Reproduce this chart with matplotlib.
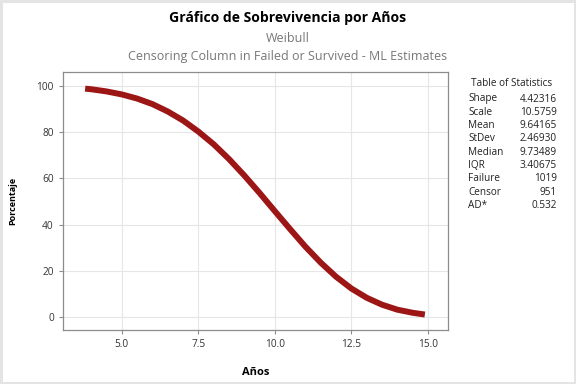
import numpy as np
from matplotlib import pyplot as plt

# Data
anios = [3.8, 4.0, 4.5, 5.0, 5.5, 6.0, 6.5, 7.0, 7.5, 8.0, 8.5, 9.0, 9.5,
         10.0, 10.5, 11.0, 11.5, 12.0, 12.5, 13.0, 13.5, 14.0, 14.5, 14.9]
porcentaje = [98.9, 98.65, 97.7, 96.4, 94.6, 92.2, 89.0, 85.1, 80.3, 74.8,
              68.4, 61.3, 53.7, 45.8, 38.0, 30.4, 23.5, 17.4, 12.3, 8.3,
              5.3, 3.15, 1.8, 1.05]
x_ticks = [5.0, 7.5, 10.0, 12.5, 15.0]
y_ticks = [0, 20, 40, 60, 80, 100]
stat_names = ["Shape", "Scale", "Mean", "StDev", "Median", "IQR",
              "Failure", "Censor", "AD*"]
stat_values = ["4.42316", "10.5759", "9.64165", "2.46930", "9.73489",
               "3.40675", "1019", "951", "0.532"]

plt.rcParams['font.family'] = ['Open Sans', 'DejaVu Sans']

fig = plt.figure(figsize=(5.76, 3.84), dpi=100, linewidth=2.5,
                 edgecolor='#e4e4e4')
ax = fig.add_axes([0.109, 0.141, 0.669, 0.672])

ax.plot(anios, porcentaje, color='#9c1616', lw=4.3, solid_capstyle='butt',
        zorder=3)

ax.set_xlim(3.07, 15.66)
ax.set_ylim(-5.6, 106.2)
ax.set_xticks(x_ticks)
ax.set_xticklabels([f"{t:.1f}" for t in x_ticks])
ax.set_yticks(y_ticks)
ax.grid(True, color='#e6e6e6', lw=0.8)
ax.set_axisbelow(True)
for s in ax.spines.values():
    s.set_color('#8c8c8c')
    s.set_linewidth(0.9)
ax.tick_params(labelsize=7.3, colors='#8c8c8c', labelcolor='#333333',
               length=3, width=0.8)

ax.set_xlabel("Años", fontsize=8, fontweight='bold', labelpad=12)
ax.set_ylabel("Porcentaje", fontsize=6.5, fontweight='bold', labelpad=14)

# Titles
fig.text(0.5, 0.953, "Gráfico de Sobrevivencia por Años", ha='center',
         va='center', fontsize=10.1, fontweight='bold', color='black')
fig.text(0.5, 0.901, "Weibull", ha='center', va='center', fontsize=9,
         color='#777777')
fig.text(0.5, 0.853, "Censoring Column in Failed or Survived - ML Estimates",
         ha='center', va='center', fontsize=9, color='#777777')

# Table of statistics
fig.text(512 / 576, 1 - 84 / 384, "Table of Statistics", ha='center',
         va='center', fontsize=7.2, color='#222222')
for i, (n, v) in enumerate(zip(stat_names, stat_values)):
    yy = 1 - (99 + i * 13.3) / 384
    fig.text(468 / 576, yy, n, ha='left', va='center', fontsize=7.2,
             color='#222222')
    fig.text(557 / 576, yy, v, ha='right', va='center', fontsize=7.2,
             color='#222222')

fig.savefig("out.png", dpi=100)
